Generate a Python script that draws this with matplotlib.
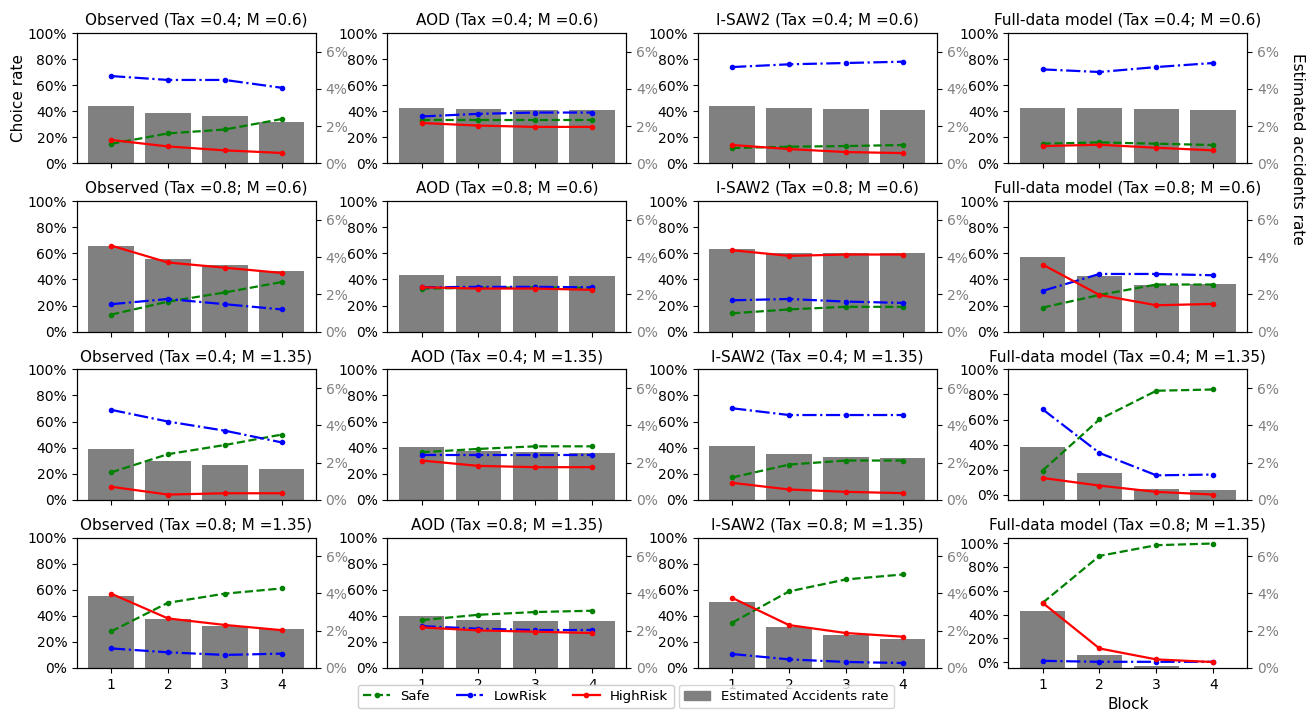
import matplotlib
matplotlib.use("Agg")
import matplotlib.pyplot as plt
from matplotlib.ticker import PercentFormatter
from matplotlib.patches import Patch
from matplotlib.lines import Line2D
import numpy as np

blocks = [1, 2, 3, 4]
models = ["Observed", "AOD", "I-SAW2", "Full-data model"]
conditions = ["(Tax =0.4; M =0.6)", "(Tax =0.8; M =0.6)",
              "(Tax =0.4; M =1.35)", "(Tax =0.8; M =1.35)"]

# Choice rates (fractions), rows = conditions, cols = blocks
observed_safe = [[0.15, 0.23, 0.26, 0.34], [0.13, 0.23, 0.30, 0.38],
                 [0.21, 0.35, 0.42, 0.50], [0.28, 0.50, 0.57, 0.61]]
observed_low = [[0.67, 0.64, 0.64, 0.58], [0.21, 0.25, 0.21, 0.17],
                [0.69, 0.60, 0.53, 0.44], [0.15, 0.12, 0.10, 0.11]]
observed_high = [[0.18, 0.13, 0.10, 0.08], [0.66, 0.53, 0.49, 0.45],
                 [0.10, 0.04, 0.05, 0.05], [0.57, 0.38, 0.33, 0.29]]
observed_acc = [[0.0308, 0.0270, 0.0252, 0.0221], [0.0460, 0.0389, 0.0358, 0.0326],
                [0.0274, 0.0210, 0.0188, 0.0167], [0.0389, 0.0265, 0.0228, 0.0207]]

aod_safe = [[0.33, 0.33, 0.33, 0.33], [0.33, 0.335, 0.34, 0.335],
            [0.365, 0.39, 0.41, 0.41], [0.367, 0.408, 0.429, 0.439]]
aod_low = [[0.36, 0.38, 0.39, 0.39], [0.34, 0.343, 0.343, 0.34],
           [0.342, 0.342, 0.342, 0.342], [0.321, 0.301, 0.291, 0.291]]
aod_high = [[0.31, 0.29, 0.28, 0.28], [0.34, 0.33, 0.33, 0.32],
            [0.301, 0.26, 0.25, 0.25], [0.311, 0.288, 0.278, 0.268]]
aod_acc = [[0.0295, 0.0290, 0.0285, 0.0285], [0.0302, 0.0298, 0.0298, 0.0298],
           [0.0284, 0.0263, 0.0256, 0.0252], [0.0279, 0.0257, 0.0252, 0.0252]]

isaw_safe = [[0.118, 0.128, 0.133, 0.141], [0.14, 0.17, 0.19, 0.19],
             [0.171, 0.27, 0.301, 0.301], [0.347, 0.587, 0.679, 0.717]]
isaw_low = [[0.739, 0.76, 0.77, 0.78], [0.24, 0.25, 0.23, 0.22],
            [0.702, 0.65, 0.65, 0.65], [0.107, 0.066, 0.046, 0.038]]
isaw_high = [[0.141, 0.11, 0.087, 0.079], [0.624, 0.581, 0.591, 0.591],
             [0.13, 0.079, 0.061, 0.051], [0.538, 0.329, 0.268, 0.24]]
isaw_acc = [[0.0306, 0.0295, 0.0290, 0.0285], [0.0442, 0.0421, 0.0421, 0.0421],
            [0.0289, 0.0246, 0.0230, 0.0225], [0.0354, 0.0221, 0.0179, 0.0155]]

full_safe = [[0.151, 0.161, 0.151, 0.141], [0.184, 0.281, 0.361, 0.361],
             [0.194, 0.602, 0.83, 0.84], [0.498, 0.892, 0.982, 0.996]]
full_low = [[0.721, 0.701, 0.739, 0.77], [0.312, 0.442, 0.442, 0.432],
            [0.682, 0.334, 0.156, 0.162], [0.011, 0.003, 0.003, 0.003]]
full_high = [[0.133, 0.143, 0.12, 0.10], [0.514, 0.281, 0.202, 0.212],
             [0.135, 0.074, 0.024, 0.003], [0.498, 0.115, 0.023, 0.001]]
full_acc = [[0.0295, 0.0295, 0.0290, 0.0285], [0.0401, 0.0299, 0.0251, 0.0256],
            [0.0285, 0.0145, 0.0059, 0.0054], [0.0305, 0.0067, 0.0013, 0.0002]]

safe_by_model = [observed_safe, aod_safe, isaw_safe, full_safe]
low_by_model = [observed_low, aod_low, isaw_low, full_low]
high_by_model = [observed_high, aod_high, isaw_high, full_high]
acc_by_model = [observed_acc, aod_acc, isaw_acc, full_acc]

fig, axes = plt.subplots(4, 4, figsize=(13.13, 7.10), dpi=100)
fig.subplots_adjust(left=0.0586, right=0.950, top=0.9535, bottom=0.0592,
                    wspace=0.30, hspace=0.29)

for r in range(4):
    for c in range(4):
        ax = axes[r, c]
        ax2 = ax.twinx()
        ax2.bar(blocks, acc_by_model[c][r], width=0.8, color="gray")
        ax2.set_ylim(0, 0.07)
        ax2.set_yticks([0, 0.02, 0.04, 0.06])
        ax2.yaxis.set_major_formatter(PercentFormatter(1, decimals=0))
        ax2.tick_params(axis="y", labelcolor="gray")

        ax.plot(blocks, safe_by_model[c][r], color="g", ls="--", marker=".", lw=1.6)
        ax.plot(blocks, low_by_model[c][r], color="b", ls="-.", marker=".", lw=1.6)
        ax.plot(blocks, high_by_model[c][r], color="r", ls="-", marker=".", lw=1.6)
        ax.set_zorder(ax2.get_zorder() + 1)
        ax.patch.set_visible(False)

        if c == 3 and r >= 2:
            ax.autoscale(axis="y")
            lo, hi = ax.get_ylim()
            ax.set_ylim(lo, max(1.0, hi))
        else:
            ax.set_ylim(0, 1)
        ax.set_yticks([0, 0.2, 0.4, 0.6, 0.8, 1.0])
        ax.yaxis.set_major_formatter(PercentFormatter(1, decimals=0))
        ax.set_xticks(blocks)
        ax.set_xlim(0.4, 4.6)
        if r < 3:
            ax.set_xticklabels([])
        ax.set_title(f"{models[c]} {conditions[r]}", fontsize=11)

axes[0, 0].set_ylabel("Choice rate", fontsize=11, labelpad=1)
axes[3, 3].set_xlabel("Block", fontsize=11)
fig.text(0.988, 0.79, "Estimated accidents rate", rotation=270,
         ha="center", va="center", fontsize=11)

line_handles = [
    Line2D([], [], color="g", ls="--", marker=".", lw=1.6),
    Line2D([], [], color="b", ls="-.", marker=".", lw=1.6),
    Line2D([], [], color="r", ls="-", marker=".", lw=1.6),
]
leg1 = fig.legend(line_handles, ["Safe", "LowRisk", "HighRisk"], ncol=3,
                  fontsize=9.5, loc="upper left", bbox_to_anchor=(0.2678, 0.045))
fig.add_artist(leg1)
fig.legend([Patch(color="gray")], ["Estimated Accidents rate"], fontsize=9.5,
           loc="upper left", bbox_to_anchor=(0.5118, 0.045))

fig.savefig("out.png", dpi=100)
